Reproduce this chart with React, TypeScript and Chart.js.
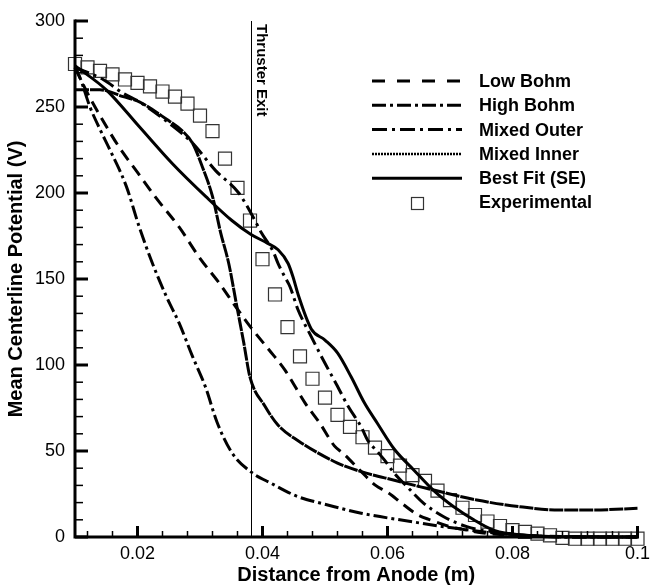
import React, { useEffect, useRef } from "react";
import { Chart, registerables } from "chart.js";

Chart.register(...registerables);

const FONT = "'Liberation Sans', Arial, Helvetica, sans-serif";

// ---- axes / ticks ----
const xTicks = [0.02, 0.04, 0.06, 0.08, 0.1];
const xMinorTicks = [0.012, 0.016, 0.024, 0.028, 0.032, 0.036, 0.044, 0.048, 0.052, 0.056, 0.064, 0.068, 0.072, 0.076, 0.084, 0.088, 0.092, 0.096];
const yTicks = [0, 50, 100, 150, 200, 250, 300];
const yMinorTicks = [10, 20, 30, 40, 60, 70, 80, 90, 110, 120, 130, 140, 160, 170, 180, 190, 210, 220, 230, 240, 260, 270, 280, 290];
const thrusterExit = 0.0381;

// ---- series ----
const lowBohmX = [0.010, 0.012, 0.014, 0.017, 0.020, 0.023, 0.0267, 0.030, 0.033, 0.0357, 0.0381, 0.041, 0.0436, 0.0468, 0.0492, 0.0515, 0.0531, 0.0558, 0.0581, 0.060, 0.0625, 0.0648, 0.0668, 0.070, 0.0727, 0.075, 0.078, 0.082, 0.088, 0.1];
const lowBohmY = [273, 258, 245, 227, 212, 197, 180, 162, 148, 134, 122, 109, 97, 78, 66, 53, 48, 38, 30, 26, 19, 13, 10, 6, 4, 2.5, 1.5, 0.8, 0.3, 0];

const highBohmX = [0.010, 0.0108, 0.0124, 0.0140, 0.0156, 0.0182, 0.0203, 0.0224, 0.0246, 0.0267, 0.0288, 0.0309, 0.0327, 0.0351, 0.0381, 0.0415, 0.0457, 0.0494, 0.0515, 0.0558, 0.0637, 0.069, 0.0732, 0.078, 0.084, 0.09, 0.1];
const highBohmY = [273, 267, 250, 237, 225, 204, 180, 159, 140, 124, 105, 87, 67, 49, 38, 31, 23.4, 19.6, 17.6, 13.8, 9, 6, 4, 2, 0.5, 0, 0];

const mixedOuterX = [0.010, 0.0145, 0.0177, 0.0203, 0.0256, 0.0288, 0.0325, 0.0362, 0.0388, 0.0398, 0.0417, 0.0425, 0.0436, 0.0444, 0.0457, 0.0478, 0.050, 0.0518, 0.0537, 0.0558, 0.0568, 0.0584, 0.0595, 0.0611, 0.0632, 0.0658, 0.069, 0.0727, 0.0769, 0.082, 0.088, 0.1];
const mixedOuterY = [273, 266, 258, 253, 239, 229, 213, 200, 184, 177, 166, 159, 151, 145.5, 132, 116.5, 101, 89, 76, 64, 56.4, 49.6, 44.8, 37, 29, 19.6, 11.8, 6, 3, 1, 0, 0];

const mixedInnerX = [0.010, 0.014, 0.0177, 0.0203, 0.0246, 0.0272, 0.0288, 0.0304, 0.032, 0.0333, 0.0346, 0.0359, 0.037, 0.038, 0.0404, 0.0425, 0.0457, 0.052, 0.0558, 0.0611, 0.0674, 0.0743, 0.0812, 0.0875, 0.0928, 0.1];
const mixedInnerY = [260, 260, 256, 253, 243, 236, 229, 215, 198, 177, 159, 134, 113, 93, 76, 65, 56, 43, 38, 33, 27.3, 21.5, 17.6, 15.7, 15.7, 16.7];

const bestFitX = [0.010, 0.015, 0.0203, 0.0256, 0.0309, 0.0351, 0.0381, 0.0407, 0.0425, 0.0441, 0.0449, 0.0457, 0.0478, 0.050, 0.052, 0.0542, 0.0563, 0.0584, 0.0611, 0.0642, 0.0674, 0.0706, 0.0738, 0.0769, 0.0795, 0.085, 0.1];
const bestFitY = [274, 260, 238.5, 217, 198, 184, 176, 171, 167, 159, 151, 141, 121, 114.5, 107, 93, 78, 66, 51, 39, 27, 17.6, 10, 4, 2, 0.5, 0];

const experimentalX = [0.010, 0.012, 0.014, 0.016, 0.018, 0.020, 0.022, 0.024, 0.026, 0.028, 0.030, 0.032, 0.034, 0.036, 0.038, 0.040, 0.042, 0.044, 0.046, 0.048, 0.050, 0.052, 0.054, 0.056, 0.058, 0.060, 0.062, 0.064, 0.066, 0.068, 0.070, 0.072, 0.074, 0.076, 0.078, 0.080, 0.082, 0.084, 0.086, 0.088, 0.090, 0.092, 0.094, 0.096, 0.098, 0.100];
const experimentalY = [275, 273, 271, 269, 266, 264, 262, 259, 256, 252, 245, 236, 220, 203, 184, 161.5, 141, 122, 105, 92, 81, 71, 64, 58, 52, 47, 41.5, 36, 32.6, 27, 21.5, 17, 12.8, 9, 6.4, 4, 3, 2, 1, -0.5, -1, -1, -1, -1, -1, -1];

const seriesNames = ["Low Bohm", "High Bohm", "Mixed Outer", "Mixed Inner", "Best Fit (SE)", "Experimental"];

const pts = (xs: number[], ys: number[]) => xs.map((x, i) => ({ x, y: ys[i] }));

const lineDs = (label: string, xs: number[], ys: number[], dash: number[], width: number) => ({
  type: "line" as const,
  label,
  data: pts(xs, ys),
  borderColor: "#000",
  backgroundColor: "#000",
  borderWidth: width,
  borderDash: dash,
  pointRadius: 0,
  fill: false,
  cubicInterpolationMode: "monotone" as const,
  clip: false as any,
});

const axisPlugin = {
  id: "axisDecor",
  afterDraw(chart: any) {
    const { ctx, chartArea, scales } = chart;
    const xs = scales.x;
    const ys = scales.y;
    const { left, right, top, bottom } = chartArea;
    ctx.save();
    ctx.strokeStyle = "#000";
    ctx.fillStyle = "#000";

    // thruster exit line
    const xe = Math.round(xs.getPixelForValue(thrusterExit)) + 0.5;
    ctx.lineWidth = 1;
    ctx.beginPath();
    ctx.moveTo(xe, top);
    ctx.lineTo(xe, bottom);
    ctx.stroke();
    ctx.save();
    ctx.translate(xe + 5, top + 3);
    ctx.rotate(Math.PI / 2);
    ctx.font = `bold 15px ${FONT}`;
    ctx.textAlign = "left";
    ctx.textBaseline = "alphabetic";
    ctx.fillText("Thruster Exit", 0, 0);
    ctx.restore();

    // axis lines
    ctx.lineWidth = 3;
    ctx.lineCap = "square";
    ctx.beginPath();
    ctx.moveTo(left, top);
    ctx.lineTo(left, bottom);
    ctx.lineTo(right, bottom);
    ctx.stroke();
    ctx.lineCap = "butt";

    // major ticks
    ctx.lineWidth = 3;
    yTicks.forEach((v) => {
      const py = ys.getPixelForValue(v);
      ctx.beginPath();
      ctx.moveTo(left, py);
      ctx.lineTo(left + 13, py);
      ctx.stroke();
    });
    xTicks.forEach((v) => {
      const px = xs.getPixelForValue(v);
      ctx.beginPath();
      ctx.moveTo(px, bottom);
      ctx.lineTo(px, bottom - 11);
      ctx.stroke();
    });
    // minor ticks
    ctx.lineWidth = 1.5;
    yMinorTicks.forEach((v) => {
      const py = ys.getPixelForValue(v);
      ctx.beginPath();
      ctx.moveTo(left, py);
      ctx.lineTo(left + 8, py);
      ctx.stroke();
    });
    xMinorTicks.forEach((v) => {
      const px = xs.getPixelForValue(v);
      ctx.beginPath();
      ctx.moveTo(px, bottom);
      ctx.lineTo(px, bottom - 6);
      ctx.stroke();
    });

    // legend
    const lx0 = 372, lx1 = 462, tx = 479, y0 = 81, dy = 24.3;
    chart.data.datasets.forEach((ds: any, i: number) => {
      const y = y0 + i * dy;
      if (ds.pointStyle === "rect") {
        ctx.lineWidth = 1.2;
        ctx.strokeStyle = "#333";
        ctx.strokeRect(Math.round((lx0 + lx1) / 2) - 6 + 0.5, Math.round(y) - 6 + 0.5, 12, 12);
        ctx.strokeStyle = "#000";
      } else {
        ctx.lineWidth = ds.legendWidth || ds.borderWidth;
        ctx.setLineDash(ds.legendDash || ds.borderDash || []);
        ctx.beginPath();
        ctx.moveTo(lx0, y);
        ctx.lineTo(lx1, y);
        ctx.stroke();
        ctx.setLineDash([]);
      }
      ctx.font = `bold 18px ${FONT}`;
      ctx.textAlign = "left";
      ctx.textBaseline = "middle";
      ctx.fillText(ds.label, tx, y + 1);
    });
    ctx.restore();
  },
};

export default function App() {
  const ref = useRef<HTMLCanvasElement>(null);
  useEffect(() => {
    if (!ref.current) return;
    const datasets: any[] = [
      { ...lineDs(seriesNames[0], lowBohmX, lowBohmY, [12, 7], 3), legendDash: [13, 12] },
      lineDs(seriesNames[1], highBohmX, highBohmY, [14, 4, 3, 4], 3),
      lineDs(seriesNames[2], mixedOuterX, mixedOuterY, [15, 5, 3, 5], 3),
      { ...lineDs(seriesNames[3], mixedInnerX, mixedInnerY, [14, 1], 3), legendDash: [2, 1], legendWidth: 2.5 },
      lineDs(seriesNames[4], bestFitX, bestFitY, [], 3),
      {
        type: "scatter",
        label: seriesNames[5],
        data: pts(experimentalX, experimentalY),
        pointStyle: "rect",
        pointRadius: 9.2,
        borderColor: "#333",
        backgroundColor: "rgba(0,0,0,0)",
        borderWidth: 1.2,
        showLine: false,
        clip: false,
      },
    ];
    const chart = new Chart(ref.current, {
      type: "line",
      data: { datasets },
      options: {
        responsive: false,
        animation: false,
        devicePixelRatio: 1,
        layout: { padding: { top: 21, right: 13, left: 0, bottom: 0 } },
        plugins: { legend: { display: false }, tooltip: { enabled: false } },
        scales: {
          x: {
            type: "linear",
            min: 0.01,
            max: 0.1,
            afterBuildTicks: (s: any) => {
              s.ticks = xTicks.map((v) => ({ value: v }));
            },
            afterFit: (s: any) => {
              s.height = 50;
            },
            grid: { display: false, drawTicks: false },
            border: { display: false },
            ticks: {
              font: { family: FONT, size: 18 },
              color: "#000",
              padding: 6,
              maxRotation: 0,
              autoSkip: false,
              callback: (v: any) => String(v),
            },
            title: {
              display: true,
              text: "Distance from Anode (m)",
              font: { family: FONT, size: 20, weight: "bold" },
              color: "#000",
              padding: { top: 0, bottom: 0 },
            },
          },
          y: {
            type: "linear",
            min: 0,
            max: 300,
            afterBuildTicks: (s: any) => {
              s.ticks = yTicks.map((v) => ({ value: v }));
            },
            afterFit: (s: any) => {
              s.width = 75;
            },
            grid: { display: false, drawTicks: false },
            border: { display: false },
            ticks: {
              font: { family: FONT, size: 18 },
              color: "#000",
              padding: 10,
              callback: (v: any) => String(v),
            },
            title: {
              display: true,
              text: "Mean Centerline Potential (V)",
              font: { family: FONT, size: 20, weight: "bold" },
              color: "#000",
              padding: { top: 4, bottom: 0 },
            },
          },
        },
      },
      plugins: [axisPlugin],
    } as any);
    return () => chart.destroy();
  }, []);
  return (
    <div style={{ position: "absolute", left: 0, top: 0, width: 656, height: 587, background: "#fff" }}>
      <canvas ref={ref} width={656} height={587} style={{ display: "block" }} />
    </div>
  );
}
